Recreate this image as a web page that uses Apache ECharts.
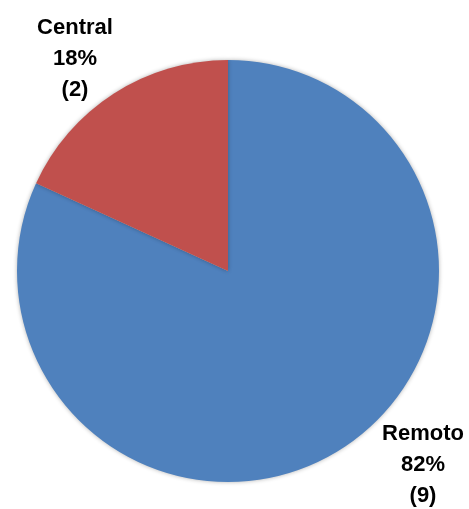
<!DOCTYPE html>
<html>
<head>
<meta charset="utf-8">
<script src="https://cdn.jsdelivr.net/npm/echarts@6/dist/echarts.min.js"></script>
<style>
    html, body { margin: 0; padding: 0; background: #fff; }
    #chart { width: 469px; height: 509px; }
</style>
</head>
<body>
<div id="chart"></div>
<script>
// 数据
const names = ['Remoto', 'Central'];
const counts = [9, 2];
const colors = ['#4F81BD', '#C0504D'];

// 标签位置 (按 dataIndex)
const labelPos = [
    { x: 423, y: 465 },
    { x: 75, y: 59 }
];

const chart = echarts.init(document.querySelector('#chart'));
chart.setOption({
    animation: false,
    color: colors,
    series: [
        {
            type: 'pie',
            center: [228, 271],
            radius: 211,
            startAngle: 90,
            clockwise: true,
            itemStyle: {
                borderWidth: 0,
                shadowBlur: 4,
                shadowColor: 'rgba(0, 0, 0, 0.3)'
            },
            label: {
                show: true,
                position: 'outside',
                overflow: 'none',
                formatter: p => `${p.name}\n${Math.round(p.percent)}%\n(${p.value})`,
                fontFamily: 'Liberation Sans',
                fontWeight: 'bold',
                fontSize: 22,
                lineHeight: 31,
                color: '#000',
                align: 'center'
            },
            labelLine: { show: false },
            labelLayout: params => ({
                x: labelPos[params.dataIndex].x,
                y: labelPos[params.dataIndex].y,
                width: 120,
                align: 'center',
                verticalAlign: 'middle'
            }),
            emphasis: { disabled: true },
            data: names.map((n, i) => ({ name: n, value: counts[i] }))
        }
    ]
});
</script>
</body>
</html>
